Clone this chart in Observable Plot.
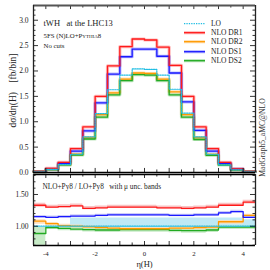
<!DOCTYPE html>
<html><head><meta charset="utf-8">
<script src="https://cdn.jsdelivr.net/npm/d3@7"></script>
<script src="https://cdn.jsdelivr.net/npm/@observablehq/plot@0.6"></script>
<style>
body{margin:0;background:#fff;}
#wrap{position:relative;width:270px;height:270px;overflow:hidden;font-family:"Liberation Serif",serif;}
#wrap svg{position:absolute;left:0;overflow:visible;}
#legend{position:absolute;left:183px;top:18.6px;font-size:7.5px;color:#222;}
#legend .row{height:9.4px;line-height:9.4px;display:flex;align-items:center;white-space:nowrap;}
#legend svg{position:static;margin-right:5px;}
</style></head><body><div id="wrap"><div id="legend"></div></div>
<script>
// ---- data ----
const edges = [-4.5,-4,-3.5,-3,-2.5,-2,-1.5,-1,-0.5,0,0.5,1,1.5,2,2.5,3,3.5,4,4.5];
const seriesNames = ["LO","NLO DR1","NLO DR2","NLO DS1","NLO DS2"];
const seriesColors = ["#1fbde3","#ff1a1a","#ff9900","#1a1aff","#22aa22"];
const loTop  = [0.015,0.06,0.155,0.36,0.70,1.16,1.63,1.92,2.04,2.03,1.92,1.64,1.17,0.70,0.36,0.15,0.053,0.015];
const dr1Top = [0.02,0.08,0.20,0.47,0.90,1.50,2.10,2.48,2.63,2.61,2.47,2.11,1.50,0.90,0.47,0.20,0.07,0.02];
const dr2Top = [0.016,0.062,0.157,0.36,0.69,1.14,1.57,1.84,1.96,1.95,1.84,1.59,1.14,0.69,0.355,0.16,0.057,0.018];
const ds1Top = [0.017,0.068,0.18,0.42,0.82,1.37,1.94,2.28,2.43,2.43,2.29,1.96,1.39,0.83,0.42,0.18,0.065,0.017];
const ds2Top = [0.013,0.059,0.15,0.345,0.66,1.09,1.53,1.81,1.93,1.92,1.81,1.53,1.09,0.65,0.34,0.148,0.052,0.015];

const loRatio  = [1,1,1,1,1,1,1,1,1,1,1,1,1,1,1,1,1,1];
const dr1Ratio = [1.33,1.30,1.31,1.32,1.28,1.29,1.30,1.30,1.30,1.30,1.29,1.29,1.28,1.29,1.30,1.33,1.33,1.38];
const ds1Ratio = [1.15,1.14,1.15,1.16,1.16,1.17,1.18,1.18,1.18,1.18,1.18,1.17,1.17,1.18,1.18,1.21,1.23,1.14];
const dr2Ratio = [1.08,1.04,1.01,1.00,0.99,0.98,0.97,0.96,0.96,0.96,0.96,0.97,0.97,0.98,0.985,1.07,1.07,1.17];
const ds2Ratio = [0.885,0.98,0.965,0.955,0.945,0.94,0.94,0.945,0.945,0.945,0.945,0.935,0.93,0.93,0.94,0.985,0.985,0.985];

const loBandLo  = [1,1,1,0.97,0.97,0.97,0.97,0.97,0.97,0.97,0.97,0.97,0.97,0.97,0.97,0.97,0.97,0.97];
const loBandHi  = [1,1,1,1.13,1.13,1.13,1.13,1.13,1.13,1.13,1.13,1.13,1.13,1.13,1.13,1.13,1.13,1.10];
const dr1Lo = [1.30,1.28,1.29,1.30,1.26,1.27,1.28,1.28,1.28,1.28,1.27,1.27,1.26,1.27,1.28,1.31,1.31,1.35];
const dr1Hi = [1.36,1.33,1.34,1.35,1.31,1.32,1.33,1.33,1.33,1.33,1.32,1.32,1.31,1.32,1.33,1.36,1.36,1.41];
const ds1Lo = [1.13,1.12,1.13,1.14,1.14,1.15,1.16,1.16,1.16,1.16,1.16,1.15,1.15,1.16,1.16,1.19,1.21,1.12];
const ds1Hi = [1.17,1.16,1.17,1.18,1.18,1.19,1.20,1.20,1.20,1.20,1.20,1.19,1.19,1.20,1.20,1.23,1.25,1.16];
const dr2Lo = [1.03,1.00,0.97,0.96,0.95,0.94,0.93,0.92,0.92,0.92,0.92,0.93,0.93,0.94,0.95,1.03,1.03,1.12];
const dr2Hi = [1.10,1.06,1.03,1.02,1.01,1.00,0.99,0.98,0.98,0.98,0.98,0.99,0.99,1.00,1.005,1.09,1.09,1.19];
const ds2Lo = [0.70,0.95,0.93,0.92,0.91,0.90,0.90,0.905,0.905,0.905,0.905,0.895,0.89,0.89,0.90,0.95,0.95,0.95];
const ds2Hi = [0.98,1.00,0.985,0.975,0.965,0.96,0.96,0.965,0.965,0.965,0.965,0.955,0.95,0.95,0.96,1.005,1.005,1.005];

const xTickLabels = [-4,-2,0,2,4];
const yTickLabelsTop = [0,0.5,1,1.5,2,2.5,3];
const yTickLabelsRatio = [1.0,1.5];

// ---- helpers ----
const step = v => edges.map((e,i)=>({x:e, y:v[Math.min(i,v.length-1)]}));
const band = (lo,hi) => edges.map((e,i)=>({x:e, y1:lo[Math.min(i,lo.length-1)], y2:hi[Math.min(i,hi.length-1)]}));
const X0 = -4.5, X1 = 4.5;
const W = 270, ML = 33, MR = 15;
const font = "Liberation Serif";
const xMajor = d3.range(-4,4.01,1), xMinor = d3.range(-4.5,4.51,0.5).filter(v=>!Number.isInteger(v));

function xTicks(yb, yt, lenMaj, lenMin){
  return [
    Plot.ruleX(xMajor,{y1:yb,y2:yb+lenMaj,stroke:"#000",strokeWidth:0.8}),
    Plot.ruleX(xMinor,{y1:yb,y2:yb+lenMin,stroke:"#000",strokeWidth:0.8}),
    Plot.ruleX(xMajor,{y1:yt,y2:yt-lenMaj,stroke:"#000",strokeWidth:0.8}),
    Plot.ruleX(xMinor,{y1:yt,y2:yt-lenMin,stroke:"#000",strokeWidth:0.8})
  ];
}
function yTicks(maj, min){
  const lM = 5/( (W-ML-MR)/9 ), lm = 2.5/((W-ML-MR)/9);
  return [
    Plot.ruleY(maj,{x1:X0,x2:X0+lM,stroke:"#000",strokeWidth:0.8}),
    Plot.ruleY(min,{x1:X0,x2:X0+lm,stroke:"#000",strokeWidth:0.8}),
    Plot.ruleY(maj,{x1:X1,x2:X1-lM,stroke:"#000",strokeWidth:0.8}),
    Plot.ruleY(min,{x1:X1,x2:X1-lm,stroke:"#000",strokeWidth:0.8})
  ];
}

// ---- top panel ----
const topY = [0, 3.29];
const topSeries = [loTop, dr1Top, dr2Top, ds1Top, ds2Top];
const topMarks = [];
topSeries.forEach((v,i)=>{
  if(i===0) return;
  topMarks.push(Plot.line(step(v),{x:"x",y:"y",curve:"step-after",stroke:seriesColors[i],strokeWidth:3.2,strokeOpacity:0.3}));
});
[2,4,3,1].forEach(i=>{
  topMarks.push(Plot.line(step(topSeries[i]),{x:"x",y:"y",curve:"step-after",stroke:seriesColors[i],strokeWidth:1.3}));
});
topMarks.push(Plot.line(step(loTop),{x:"x",y:"y",curve:"step-after",stroke:seriesColors[0],strokeWidth:1.2,strokeDasharray:"1.3,1.1"}));

const topPlot = Plot.plot({
  width: W, height: 174, marginLeft: ML, marginRight: MR, marginTop: 5, marginBottom: 2,
  style: {fontFamily: font, fontSize: "7.5px", background: "transparent", color:"#222"},
  x: {domain: [X0, X1], axis: null},
  y: {domain: topY},
  marks: [
    ...topMarks,
    ...yTicks(yTickLabelsTop, d3.range(0,3.25,0.1).filter(v=>Math.abs(v*2-Math.round(v*2))>1e-6)),
    ...xTicks(0, topY[1], 0.08, 0.05),
    Plot.axisY(yTickLabelsTop,{tickSize:0,tickPadding:5,tickFormat:d3.format(".1f"),label:null,fontSize:7.5}),
    Plot.ruleY([topY[1]],{stroke:"#555",strokeWidth:2.2}),
    Plot.ruleY([0],{stroke:"#000",strokeWidth:1.5}),
    Plot.ruleX([X0],{stroke:"#222",strokeWidth:1.3}),
    Plot.ruleX([X1],{stroke:"#222",strokeWidth:1.3}),
    Plot.text(["tWH   at the LHC13"],{frameAnchor:"top-left",dx:10,dy:17.5,textAnchor:"start",lineAnchor:"middle",fontSize:8.5,fill:"#222"}),
    Plot.text(["5FS (N)LO+Pythia8"],{frameAnchor:"top-left",dx:10,dy:30,textAnchor:"start",lineAnchor:"middle",fontSize:6.8,fontVariant:"small-caps",fill:"#222"}),
    Plot.text(["No cuts"],{frameAnchor:"top-left",dx:10,dy:40.5,textAnchor:"start",lineAnchor:"middle",fontSize:6.8,fill:"#222"}),
    Plot.text(["dσ/dη(H)    [fb/bin]"],{frameAnchor:"left",dx:-20.5,dy:1.5,rotate:-90,textAnchor:"middle",lineAnchor:"middle",fontSize:9.5,fill:"#222"}),
    Plot.text(["MadGraph5_aMC@NLO"],{frameAnchor:"right",dx:7,dy:48.5,rotate:-90,textAnchor:"middle",lineAnchor:"middle",fontSize:7.6,fill:"#333"})
  ]
});
topPlot.style.top = "0px";

// ---- ratio panel ----
const rY = [0.696, 1.815];
const rPlot = Plot.plot({
  width: W, height: 96, marginLeft: ML, marginRight: MR, marginTop: 0, marginBottom: 25,
  style: {fontFamily: font, fontSize: "7.5px", background: "transparent", color:"#222"},
  x: {domain: [X0, X1]},
  y: {domain: rY},
  marks: [
    Plot.areaY(band(loBandLo,loBandHi),{x:"x",y1:"y1",y2:"y2",curve:"step-after",fill:"#bfe9f5"}),
    Plot.areaY(band(dr2Lo,dr2Hi),{x:"x",y1:"y1",y2:"y2",curve:"step-after",fill:"#fddcb0",fillOpacity:0.85}),
    Plot.areaY(band(ds2Lo,ds2Hi),{x:"x",y1:"y1",y2:"y2",curve:"step-after",fill:"#bde7bd",fillOpacity:0.85}),
    Plot.areaY(band(ds1Lo,ds1Hi),{x:"x",y1:"y1",y2:"y2",curve:"step-after",fill:"#c4c4f8",fillOpacity:0.85}),
    Plot.areaY(band(dr1Lo,dr1Hi),{x:"x",y1:"y1",y2:"y2",curve:"step-after",fill:"#f8b8b8",fillOpacity:0.85}),
    Plot.line(step(ds2Ratio),{x:"x",y:"y",curve:"step-after",stroke:seriesColors[4],strokeWidth:1.3}),
    Plot.line(step(dr2Ratio),{x:"x",y:"y",curve:"step-after",stroke:seriesColors[2],strokeWidth:1.3}),
    Plot.line(step(ds1Ratio),{x:"x",y:"y",curve:"step-after",stroke:seriesColors[3],strokeWidth:1.3}),
    Plot.line(step(dr1Ratio),{x:"x",y:"y",curve:"step-after",stroke:seriesColors[1],strokeWidth:1.3}),
    Plot.line(step(loRatio),{x:"x",y:"y",curve:"step-after",stroke:seriesColors[0],strokeWidth:1.2,strokeDasharray:"1.3,1.1"}),
    ...yTicks([1.0,1.5], d3.range(0.7,1.81,0.1).filter(v=>Math.abs(v*2-Math.round(v*2))>1e-6)),
    ...xTicks(rY[0], rY[1], 0.063, 0.04),
    Plot.axisY(yTickLabelsRatio,{tickSize:0,tickPadding:5,tickFormat:d3.format(".2f"),label:null,fontSize:7.5}),
    Plot.axisX(xTickLabels,{tickSize:0,tickPadding:6,tickFormat:d=>d<0?"-"+Math.abs(d):String(d),label:null,fontSize:6.8}),
    Plot.ruleY([rY[1]],{stroke:"#000",strokeWidth:1.5}),
    Plot.ruleY([rY[0]],{stroke:"#000",strokeWidth:1.5}),
    Plot.ruleX([X0],{stroke:"#222",strokeWidth:1.3}),
    Plot.ruleX([X1],{stroke:"#222",strokeWidth:1.3}),
    Plot.text(["NLO+Py8 / LO+Py8   with μ unc. bands"],{frameAnchor:"top-left",dx:9,dy:12,textAnchor:"start",lineAnchor:"middle",fontSize:7.3,fill:"#222"}),
    Plot.text(["η(H)"],{frameAnchor:"bottom",dy:18.5,lineAnchor:"middle",fontSize:8.5,fill:"#222"})
  ]
});
rPlot.style.top = "174px";

const wrap = document.getElementById("wrap");
wrap.insertBefore(rPlot, wrap.firstChild);
wrap.insertBefore(topPlot, wrap.firstChild);

// ---- legend ----
const leg = document.getElementById("legend");
seriesNames.forEach((n,i)=>{
  const row = document.createElement("div"); row.className="row";
  const c = seriesColors[i];
  const halo = i===0 ? "" : `<line x1="1" x2="22" y1="4.7" y2="4.7" stroke="${c}" stroke-width="3.2" stroke-opacity="0.3"/>`;
  const main = i===0 ? `<line x1="1" x2="22" y1="4.7" y2="4.7" stroke="${c}" stroke-width="1.2" stroke-dasharray="1.3,1.1"/>`
                     : `<line x1="1" x2="22" y1="4.7" y2="4.7" stroke="${c}" stroke-width="1.3"/>`;
  row.innerHTML = `<svg width="23" height="9.4">${halo}${main}</svg><span>${n}</span>`;
  leg.appendChild(row);
});
</script></body></html>
